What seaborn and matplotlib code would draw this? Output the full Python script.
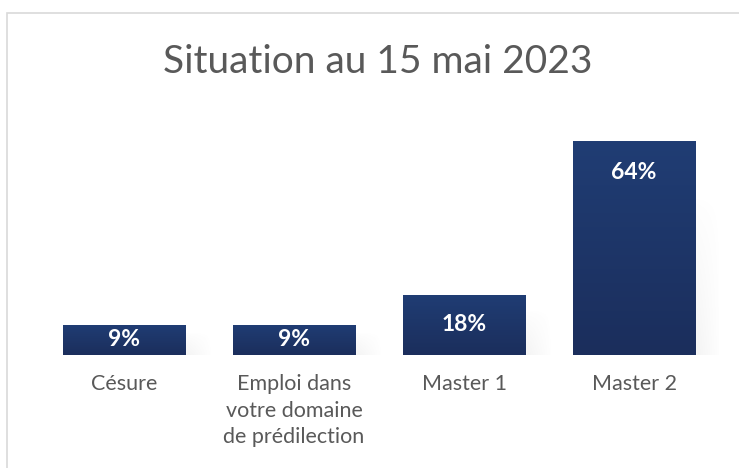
import numpy as np
import pandas as pd
import matplotlib
matplotlib.use("Agg")
import matplotlib.pyplot as plt
import seaborn as sns
from matplotlib.patches import Rectangle
from matplotlib.colors import LinearSegmentedColormap

# Data
categories = ["Césure", "Emploi dans\nvotre domaine\nde prédilection", "Master 1", "Master 2"]
values = [9, 9, 18, 64]
labels = ["9%", "9%", "18%", "64%"]

df = pd.DataFrame({"situation": categories, "pct": values})

sns.set_theme(style="white")
plt.rcParams["font.family"] = ["Lato", "DejaVu Sans"]

fig = plt.figure(figsize=(7.39, 4.68), dpi=100)
ax = fig.add_axes([39 / 739, 113 / 468, 680 / 739, 234 / 468])

navy = "#1e3768"
sns.barplot(data=df, x="situation", y="pct", color=navy, width=0.72, saturation=1, ax=ax)

# gradient fill + soft shadow for each bar
grad = LinearSegmentedColormap.from_list("g", ["#1b2e5c", "#203d74"])
vy = np.linspace(1, 0, 60)[:, None] ** 0.8
hx = np.clip(np.linspace(1.6, 0, 80)[None, :], 0, 1)
shadow = np.zeros((60, 80, 4))
shadow[..., :3] = 0.5
shadow[..., 3] = 0.3 * vy * hx
for bar in list(ax.patches):
    x0, w, h = bar.get_x(), bar.get_width(), bar.get_height()
    sh_h = min(h * 0.75, h - 2)
    ax.imshow(shadow, aspect="auto", extent=[x0 + 0.05, x0 + w + 0.16, 0, sh_h],
              origin="lower", zorder=0.5, interpolation="bilinear")
    im = ax.imshow(np.linspace(0, 1, 100).reshape(-1, 1), cmap=grad, aspect="auto",
                   extent=[x0, x0 + w, 0, h], origin="lower", zorder=2)
    im.set_clip_path(bar)
    bar.set_zorder(1.5)
ax.set_xlim(-0.5, 3.5)
ax.set_ylim(0, 70)

for i, (v, lab) in enumerate(zip(values, labels)):
    y = v - min(9.3, v / 2)
    ax.text(i, y, lab, ha="center", va="center", color="white",
            fontsize=16.5, fontweight="bold", zorder=3)

ax.set_title("")
ax.set_xlabel("")
ax.set_ylabel("")
ax.set_yticks([])
ax.tick_params(axis="x", length=0, labelsize=15.5, labelcolor="#595959", pad=14)
for t in ax.get_xticklabels():
    t.set_linespacing(1.4)
sns.despine(ax=ax, left=True, bottom=True)

fig.text(378 / 739, 1 - 62 / 468, "Situation au 15 mai 2023", ha="center", va="center",
         fontsize=28, color="#595959")

# chart border
fig.patches.append(Rectangle((7 / 739, -0.05), 1, 1 - 13 / 468 + 0.05, transform=fig.transFigure,
                             fill=False, edgecolor="#d9d9d9", lw=1.2))

fig.savefig("out.png", dpi=100)
